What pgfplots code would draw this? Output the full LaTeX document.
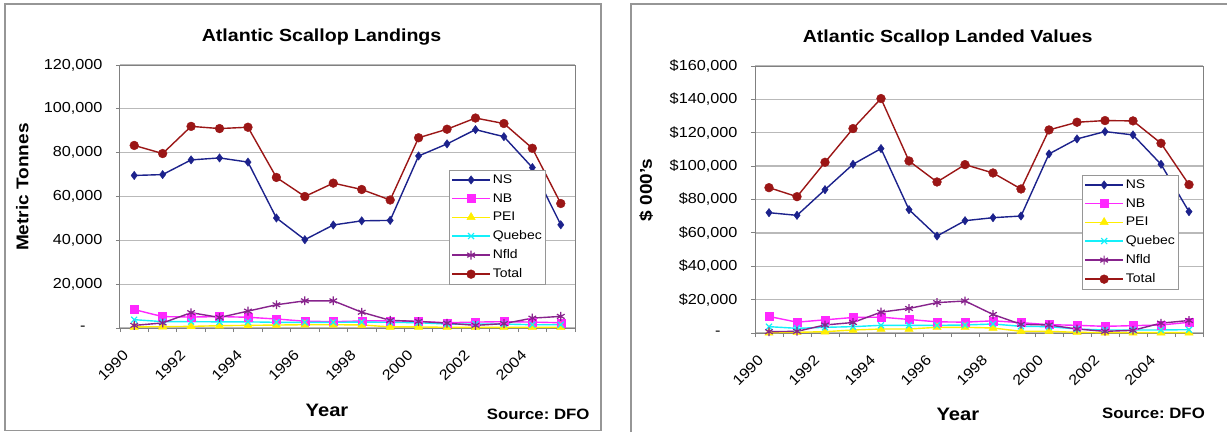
\documentclass[border=0pt]{standalone}
\usepackage{pgfplots}
\pgfplotsset{compat=1.18}
\usepackage{pgfplotstable}
\usepackage{fontspec}
\setmainfont{Liberation Sans}[FakeStretch=1.12]
\frenchspacing

\definecolor{cNS}{RGB}{28,34,140}
\definecolor{cNB}{RGB}{255,40,255}
\definecolor{cPEI}{RGB}{255,238,0}
\definecolor{cQ}{RGB}{20,240,250}
\definecolor{cNf}{RGB}{135,35,140}
\definecolor{cTot}{RGB}{155,22,22}
\definecolor{framec}{RGB}{150,150,150}
\definecolor{gridc}{RGB}{185,185,185}
\definecolor{axc}{RGB}{128,128,128}

% year index: 0 = 1990 ... 15 = 2005
\pgfplotstableread{
yr NS NB PEI Qc Nf Tot
0 69600 8400 500 3800 1200 83300
1 70000 5200 600 2900 2300 79600
2 76700 5000 750 2900 7000 92000
3 77600 5200 1050 2800 4800 91000
4 75700 4900 1200 2800 7700 91600
5 50200 4100 1350 2600 10600 68700
6 40300 3100 1500 2600 12400 60000
7 47000 2900 1500 2600 12400 66100
8 48900 3200 1400 2700 7200 63200
9 49100 3300 500 2600 3500 58400
10 78500 3000 500 2400 3000 86800
11 84000 2400 300 1800 2200 90700
12 90500 2700 300 1800 1200 95800
13 87300 2900 300 1800 2000 93300
14 73200 2700 300 1500 4500 82000
15 47100 2400 300 1500 5300 56800
}\landings

\pgfplotstableread{
yr NS NB PEI Qc Nf Tot
0 72100 9900 200 3800 800 87100
1 70500 6500 400 2800 1000 81700
2 85900 7900 800 3400 4800 102300
3 101100 9300 1800 3800 6300 122500
4 110500 9500 2400 4600 12500 140500
5 73900 8100 2400 4600 14700 103100
6 58100 6700 3400 4600 18200 90500
7 67300 6500 3400 4800 19200 100900
8 69100 7300 3000 5400 11100 95900
9 70100 6200 1000 4000 5200 86300
10 107300 5000 1000 3800 4800 121700
11 116300 4600 400 2400 2400 126300
12 120700 4000 200 1800 1000 127300
13 118700 4400 200 1800 1600 127100
14 101100 4800 200 1800 5900 113700
15 72700 6400 200 2000 7500 88900
}\values

\pgfplotsset{
  scallop/.style={
    scale only axis, clip=false,
    xmin=-0.5, xmax=15.5, ymin=0,
    xtick={0,2,...,14},
    xticklabels={1990,1992,1994,1996,1998,2000,2002,2004},
    minor xtick={-0.5,0.5,...,15.5},
    major x tick style={draw=none},
    tick pos=left, tick align=outside,
    major tick length=4pt, minor tick length=4pt,
    tick style={draw=axc, line width=0.8pt},
    scaled y ticks=false,
    ymajorgrids, grid style={draw=gridc, line width=1.3pt},
    axis line style={draw=axc, line width=1pt},
    xticklabel style={font=\fontsize{14.5}{16}\selectfont, xshift=-12pt, yshift=-17pt, rotate=45, anchor=north east, inner sep=0pt},
    yticklabel style={font=\fontsize{14.5}{16}\selectfont, xshift=-10pt},
    ylabel style={anchor=center, font=\bfseries\fontsize{17}{20}\selectfont},
    xlabel style={anchor=center, font=\bfseries\fontsize{18}{20}\selectfont},
    title style={anchor=center, yshift=-8pt, font=\bfseries\fontsize{17.5}{20}\selectfont},
    legend image code/.code={\draw[mark repeat=2,mark phase=2,#1] plot coordinates {(0pt,0pt) (19pt,0pt) (38pt,0pt)};},
    legend cell align=left,
    legend style={anchor=north west, draw=framec, line width=0.8pt, fill=white,
      font=\fontsize{12.5}{14}\selectfont, inner xsep=2pt, inner ysep=2.5pt, row sep=4.5pt},
  },
  sNS/.style={cNS, line width=1.4pt, mark=diamond*, mark size=4.2pt, mark options={fill=cNS, draw=cNS, line width=0.4pt}},
  sNB/.style={cNB, line width=1.4pt, mark=square*, mark size=4pt, mark options={fill=cNB, draw=cNB, line width=0.4pt}},
  sPEI/.style={cPEI, line width=1.4pt, mark=triangle*, mark size=4.8pt, mark options={fill=cPEI, draw=cPEI, line width=0.4pt}},
  sQ/.style={cQ, line width=1.4pt, mark=x, mark size=4.2pt, mark options={draw=cQ, line width=1.2pt}},
  sNf/.style={cNf, line width=1.4pt, mark=asterisk, mark size=4.4pt, mark options={draw=cNf, line width=1.2pt}},
  sTot/.style={cTot, line width=1.4pt, mark=*, mark size=4.4pt, mark options={fill=cTot, draw=cTot, line width=0.4pt}},
}

\begin{document}
\begin{tikzpicture}
\useasboundingbox (0pt,0pt) rectangle (1227pt,432pt);
\fill[white] (0pt,0pt) rectangle (1227pt,432pt);
\draw[framec, line width=1.2pt] (5pt,1.5pt) rectangle (601pt,428pt);
\draw[framec, line width=1.2pt] (631pt,0pt) -- (631pt,428pt) -- (1230pt,428pt);

\begin{axis}[scallop,
  at={(120pt,104pt)}, anchor=south west, width=455pt, height=263pt,
  ymax=120000, ytick={0,20000,...,120000},
  yticklabels={{-\hspace{17pt}\mbox{}},{20,000},{40,000},{60,000},{80,000},{100,000},{120,000}},
  title={Atlantic Scallop Landings},
  title style={at={(axis description cs:0.443,1.114)}},
  ylabel={Metric Tonnes},
  ylabel style={at={(axis description cs:-0.215,0.536)}},
  xlabel={Year},
  xlabel style={at={(axis description cs:0.455,-0.312)}},
  legend style={at={(0.723,0.601)}},
]
\addplot[sNS] table[x=yr,y=NS]{\landings};
\addplot[sNB] table[x=yr,y=NB]{\landings};
\addplot[sPEI] table[x=yr,y=PEI]{\landings};
\addplot[sQ] table[x=yr,y=Qc]{\landings};
\addplot[sNf] table[x=yr,y=Nf]{\landings};
\addplot[sTot] table[x=yr,y=Tot]{\landings};
\legend{NS,NB,PEI,Quebec,Nfld,Total}
\node[font=\bfseries\fontsize{15}{17}\selectfont] at (axis description cs:0.919,-0.327) {Source:\ DFO};
\end{axis}

\begin{axis}[scallop,
  at={(755pt,99pt)}, anchor=south west, width=448pt, height=267pt,
  ymax=160000, ytick={0,20000,...,160000},
  yticklabels={{-\hspace{17pt}\mbox{}},{\$20,000},{\$40,000},{\$60,000},{\$80,000},{\$100,000},{\$120,000},{\$140,000},{\$160,000}},
  title={Atlantic Scallop Landed Values},
  title style={at={(axis description cs:0.430,1.114)}},
  ylabel={\$ 000's},
  ylabel style={at={(axis description cs:-0.243,0.536)}},
  xlabel={Year},
  xlabel style={at={(axis description cs:0.453,-0.305)}},
  legend style={at={(0.730,0.592)}},
]
\addplot[sNS] table[x=yr,y=NS]{\values};
\addplot[sNB] table[x=yr,y=NB]{\values};
\addplot[sPEI] table[x=yr,y=PEI]{\values};
\addplot[sQ] table[x=yr,y=Qc]{\values};
\addplot[sNf] table[x=yr,y=Nf]{\values};
\addplot[sTot] table[x=yr,y=Tot]{\values};
\legend{NS,NB,PEI,Quebec,Nfld,Total}
\node[font=\bfseries\fontsize{15}{17}\selectfont] at (axis description cs:0.8895,-0.30) {Source:\ DFO};
\end{axis}
\end{tikzpicture}
\end{document}
